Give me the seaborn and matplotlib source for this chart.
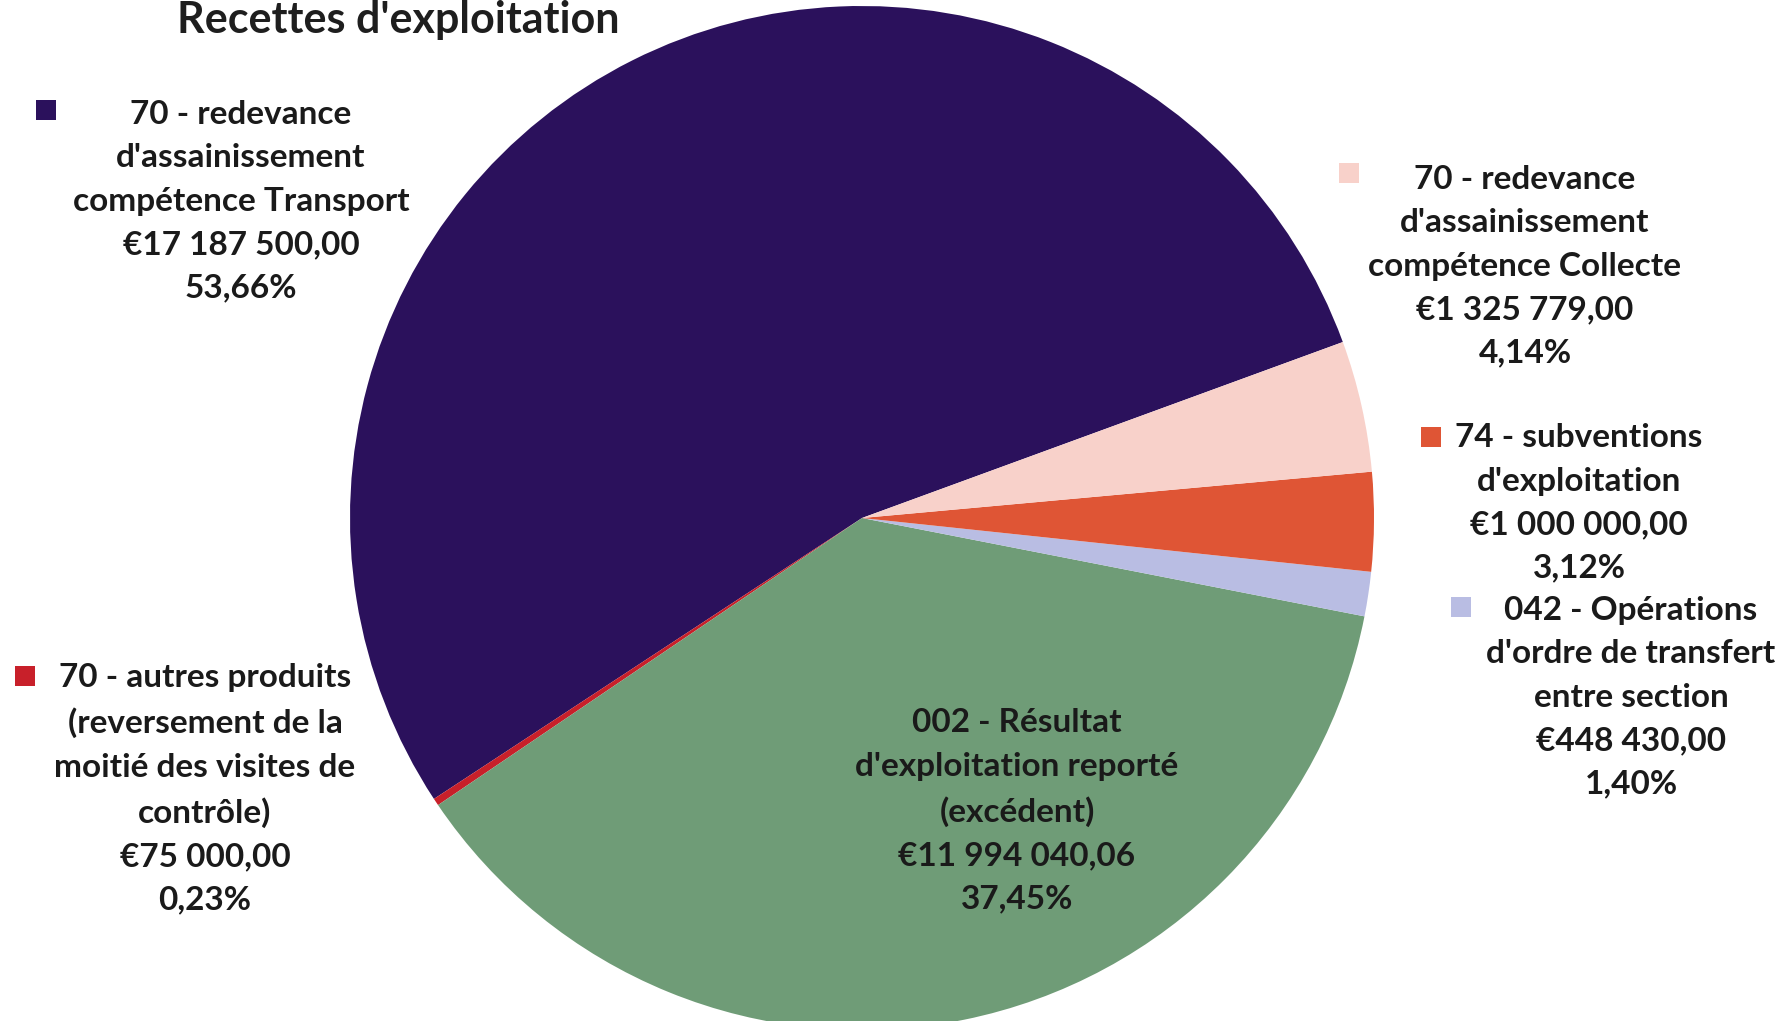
"""
Recettes d'exploitation - pie chart of operating revenue by account.
"""

import matplotlib
matplotlib.use("Agg")
import matplotlib.pyplot as plt
import seaborn as sns

# Slices, in counter-clockwise order starting from the right side
categories = [
    "70 - redevance\nd'assainissement\ncompétence Transport",
    "70 - autres produits\n(reversement de la\nmoitié des visites de\ncontrôle)",
    "002 - Résultat\nd'exploitation reporté\n(excédent)",
    "042 - Opérations\nd'ordre de transfert\nentre section",
    "74 - subventions\nd'exploitation",
    "70 - redevance\nd'assainissement\ncompétence Collecte",
]
amounts = ["€17 187 500,00", "€75 000,00", "€11 994 040,06",
           "€448 430,00", "€1 000 000,00", "€1 325 779,00"]
percents = [53.66, 0.23, 37.45, 1.40, 3.12, 4.14]
colors = ["#2b115c", "#c8202a", "#6f9c77", "#b9bde3", "#df5535", "#f8d1ca"]

# label anchor (pixel coords of the 1785x1021 canvas) and legend key position
label_xy = [(241, 201), (205, 789), (1017, 811), (1631, 697), (1579, 503),
            (1525, 266)]
key_xy = [(46, 110), (25, 676), None, (1461, 607), (1431, 437), (1349, 173)]

W, H = 1785, 1021


def main():
    sns.set_theme(style="white")
    plt.rcParams["font.family"] = ["Lato", "DejaVu Sans"]

    fig = plt.figure(figsize=(W / 100, H / 100), dpi=100)
    fig.patch.set_facecolor("white")

    # pie axes: centre (862, 518), radius 512 px
    cx, cy, r = 862, 518, 512
    ax = fig.add_axes([(cx - r) / W, (H - cy - r) / H, 2 * r / W, 2 * r / H])
    ax.pie(percents, colors=colors, startangle=20.1, counterclock=True,
           radius=1, wedgeprops=dict(linewidth=0))
    ax.set_xlim(-1, 1)
    ax.set_ylim(-1, 1)
    ax.set_aspect("equal")
    ax.axis("off")

    # overlay in pixel coordinates for texts and legend keys
    ov = fig.add_axes([0, 0, 1, 1], facecolor="none")
    ov.set_xlim(0, W)
    ov.set_ylim(H, 0)
    ov.axis("off")

    ov.text(398, 20, "Recettes d'exploitation", ha="center", va="center",
            fontsize=31, fontweight="bold", color="#1e1e1e")

    for i in range(len(categories)):
        txt = f"{categories[i]}\n{amounts[i]}\n{percents[i]:.2f}%".replace(
            ".", ",")
        x, y = label_xy[i]
        ov.text(x, y, txt, ha="center", va="center", fontsize=24,
                fontweight="bold", color="#1a1a1a", linespacing=1.6)
        if key_xy[i] is not None:
            ov.scatter([key_xy[i][0]], [key_xy[i][1]], marker="s", s=190,
                       color=colors[i], edgecolors="none")

    fig.savefig("out.png", dpi=100)


if __name__ == "__main__":
    main()
